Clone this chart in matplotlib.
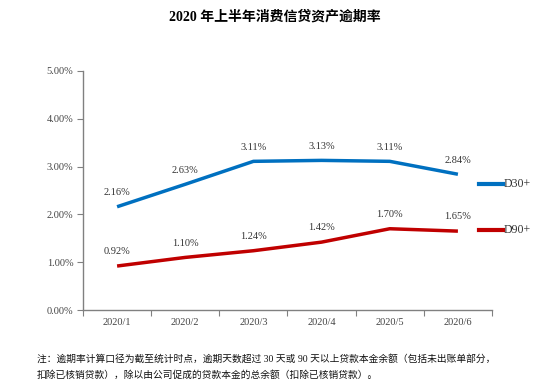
import matplotlib
matplotlib.use("Agg")
import matplotlib.pyplot as plt
from matplotlib.lines import Line2D

categories = ["2020/1", "2020/2", "2020/3", "2020/4", "2020/5", "2020/6"]
d30 = [2.16, 2.63, 3.11, 3.13, 3.11, 2.84]
d90 = [0.92, 1.10, 1.24, 1.42, 1.70, 1.65]
yticks = [0, 1, 2, 3, 4, 5]
series_names = ["D30+", "D90+"]

fam = ["Liberation Serif", "Noto Sans CJK SC"]
plt.rcParams['font.family'] = fam

fig = plt.figure(figsize=(5.49, 3.87), dpi=100)
ax = fig.add_axes([83/549, 1-310/387, (492-83)/549, (310-71)/387])

blue = "#0070C0"
red = "#C00000"
x = list(range(len(categories)))
ax.plot(x, d30, color=blue, lw=2.5, solid_capstyle='butt')
ax.plot(x, d90, color=red, lw=2.5, solid_capstyle='butt')

for xi, v in zip(x, d30):
    ax.annotate(f"{v:.2f}%", (xi, v), xytext=(0, 7), textcoords="offset points",
                ha="center", va="bottom", fontsize=7.5, color="#333333")
for xi, v in zip(x, d90):
    ax.annotate(f"{v:.2f}%", (xi, v), xytext=(0, 7), textcoords="offset points",
                ha="center", va="bottom", fontsize=7.5, color="#333333")

ax.set_xlim(-0.5, len(categories) - 0.5)
ax.set_ylim(0, 5)
ax.set_yticks(yticks)
ax.set_yticklabels([f"{t:.2f}%" for t in yticks], fontsize=7.5, color="#444444")
ax.set_xticks([i - 0.5 for i in range(len(categories) + 1)])
ax.set_xticklabels([])
ax.set_xticks(x, minor=True)
ax.set_xticklabels(categories, minor=True, fontsize=7.5, color="#444444")
ax.tick_params(axis='x', which='minor', length=0, pad=6)
ax.tick_params(axis='x', which='major', length=4, color="#808080", direction='out')
ax.tick_params(axis='y', length=4, color="#808080", direction='out', pad=3)
for s in ["top", "right"]:
    ax.spines[s].set_visible(False)
for s in ["left", "bottom"]:
    ax.spines[s].set_color("#808080")
    ax.spines[s].set_linewidth(1.0)

# legend-like entries on the right
for name, col, yp in [(series_names[0], blue, 184), (series_names[1], red, 230)]:
    fig.add_artist(Line2D([479/549, 503/549], [1-yp/387, 1-yp/387], color=col, lw=3.0,
                          transform=fig.transFigure))
    fig.text(504/549, 1-yp/387, name, fontsize=8.5, va="center", ha="left", color="#333333")

fig.text(0.5, 1-17/387, "2020 年上半年消费信贷资产逾期率", ha="center", va="center",
         fontsize=10, fontweight="bold", color="#000000")

fig.text(37/549, 1-359/387,
         "注：逾期率计算口径为截至统计时点，逾期天数超过 30 天或 90 天以上贷款本金余额（包括未出账单部分，",
         ha="left", va="center", fontsize=7.0, color="#111111")
fig.text(37/549, 1-375/387,
         "扣除已核销贷款），除以由公司促成的贷款本金的总余额（扣除已核销贷款）。",
         ha="left", va="center", fontsize=7.0, color="#111111")

fig.savefig("out.png", dpi=100)
